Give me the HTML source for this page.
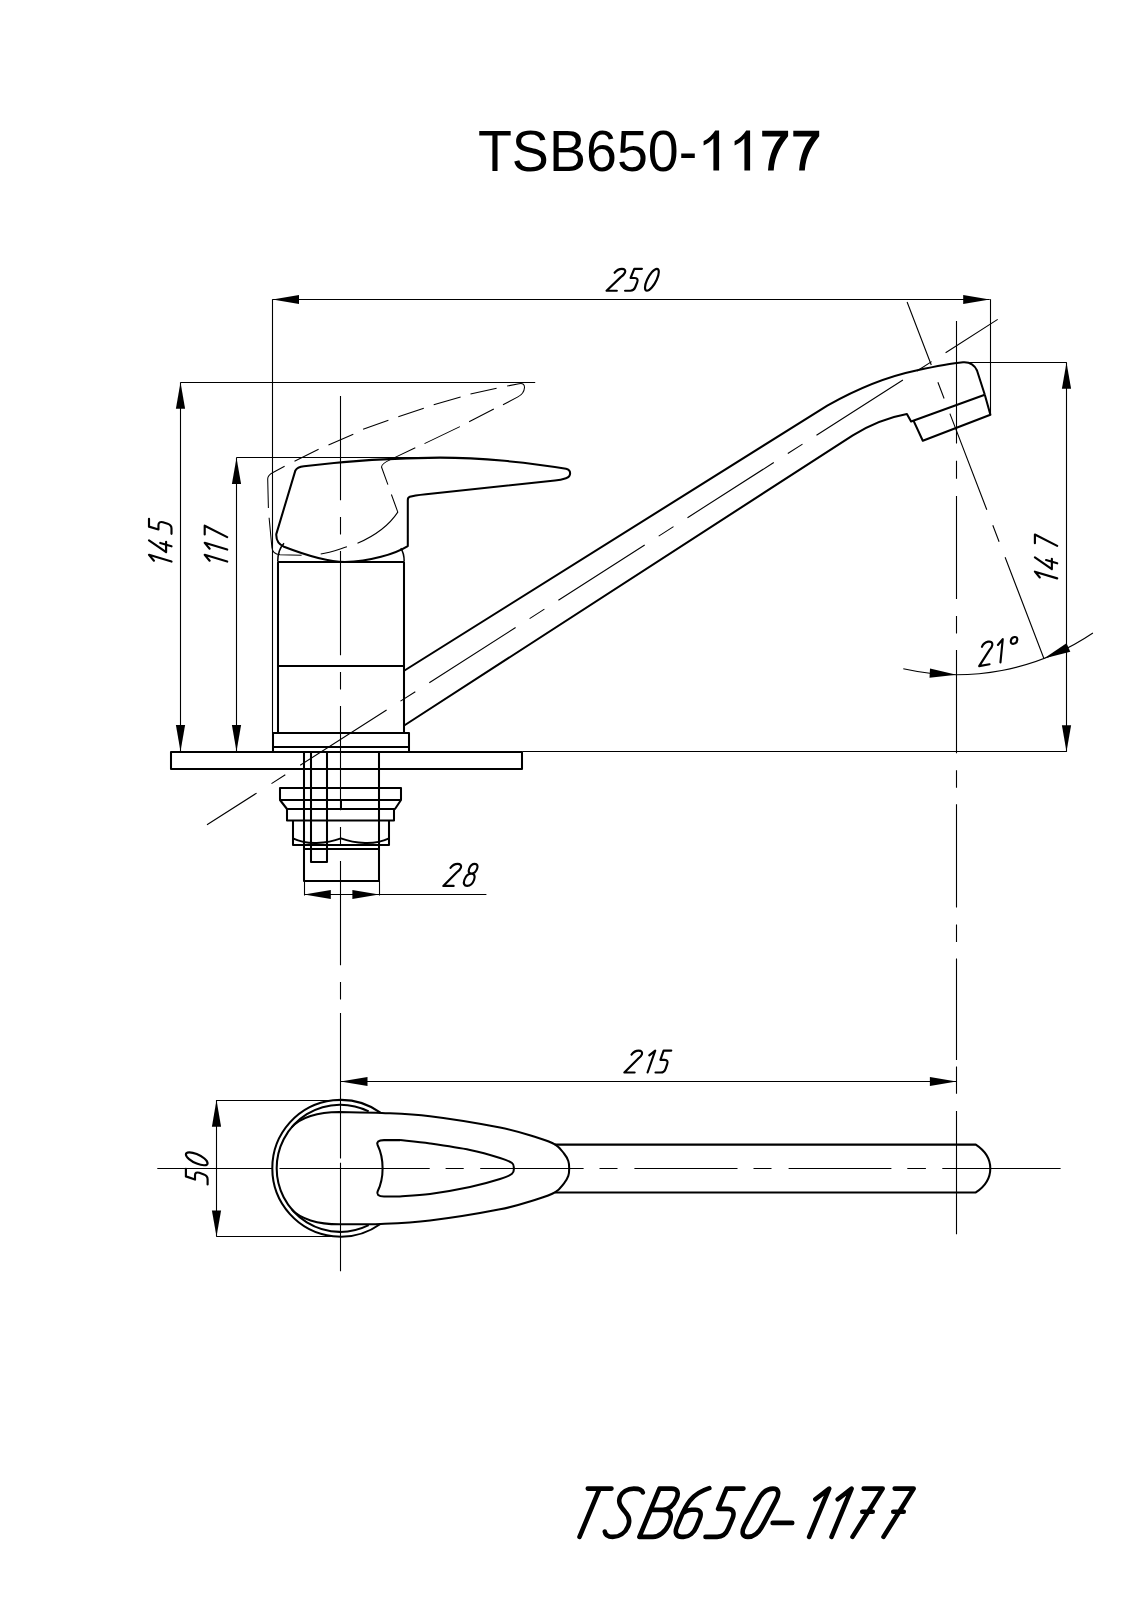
<!DOCTYPE html>
<html><head><meta charset="utf-8"><style>
html,body{margin:0;padding:0;background:#fff;}
svg{display:block;}
</style></head><body>
<svg width="1131" height="1600" viewBox="0 0 1131 1600">
<rect width="1131" height="1600" fill="#fff"/>
<g fill="none" stroke="#000" stroke-linecap="butt" stroke-linejoin="round">
<line x1="272.5" y1="299.5" x2="989.7" y2="299.5" stroke-width="1.1"/>
<path d="M272.5,299.5 L299.0,304.1 L299.0,294.9 Z" fill="#000" stroke="none"/>
<path d="M989.7,299.5 L963.2,294.9 L963.2,304.1 Z" fill="#000" stroke="none"/>
<line x1="272.5" y1="299.2" x2="272.5" y2="733.0" stroke-width="1.1"/>
<line x1="990.5" y1="299.2" x2="990.5" y2="414.7" stroke-width="1.1"/>
<g transform="translate(600.00,290.70) rotate(0)" stroke-width="2.15" stroke-linecap="round" stroke-linejoin="round"><path d="M14.60,-17.96 C16.83,-20.80 19.46,-21.90 21.87,-21.90 C24.72,-21.90 25.86,-20.37 24.98,-18.18 C24.28,-16.43 22.88,-15.11 20.73,-13.58 L6.54,0.00 L16.83,0.00"/><path d="M41.93,-21.90 L34.27,-21.90 L30.59,-12.70 L34.97,-12.70 C37.38,-12.70 38.21,-10.95 37.16,-8.32 L35.32,-3.72 C34.36,-1.31 32.52,0.00 30.33,0.00 L25.07,0.00"/><path d="M56.83,-21.90 C59.49,-21.90 59.44,-16.99 56.72,-10.95 C53.99,-4.91 49.63,0.00 46.97,0.00 C44.31,0.00 44.36,-4.91 47.08,-10.95 C49.81,-16.99 54.17,-21.90 56.83,-21.90 Z"/></g>
<line x1="180.7" y1="382.5" x2="535.2" y2="382.5" stroke-width="1.1"/>
<line x1="180.5" y1="382.3" x2="180.5" y2="751.5" stroke-width="1.1"/>
<path d="M180.5,382.3 L175.9,408.8 L185.1,408.8 Z" fill="#000" stroke="none"/>
<path d="M180.5,751.5 L185.1,725.0 L175.9,725.0 Z" fill="#000" stroke="none"/>
<g transform="translate(171.50,570.00) rotate(-90)" stroke-width="2.15" stroke-linecap="round" stroke-linejoin="round"><path d="M9.30,-17.55 L15.17,-22.50 L8.42,0.00"/><path d="M29.74,-22.50 L17.86,-5.40 L28.21,-5.40 M27.04,-11.25 L23.66,0.00"/><path d="M51.24,-22.50 L43.36,-22.50 L40.53,-13.05 L45.03,-13.05 C47.50,-13.05 48.54,-11.25 47.73,-8.55 L46.31,-3.82 C45.57,-1.35 43.81,0.00 41.56,0.00 L36.16,0.00"/></g>
<line x1="236.3" y1="457.5" x2="462.0" y2="457.5" stroke-width="1.1"/>
<line x1="236.5" y1="457.7" x2="236.5" y2="751.5" stroke-width="1.1"/>
<path d="M236.5,457.7 L231.9,484.0 L241.1,484.0 Z" fill="#000" stroke="none"/>
<path d="M236.5,751.5 L241.1,725.0 L231.9,725.0 Z" fill="#000" stroke="none"/>
<g transform="translate(227.20,570.00) rotate(-90)" stroke-width="2.15" stroke-linecap="round" stroke-linejoin="round"><path d="M9.30,-17.55 L15.17,-22.50 L8.42,0.00"/><path d="M21.30,-17.55 L27.17,-22.50 L20.42,0.00"/><path d="M35.49,-22.50 L44.33,-22.50 L32.88,0.00"/></g>
<line x1="522.5" y1="751.5" x2="1066.8" y2="751.5" stroke-width="1.1"/>
<line x1="965.0" y1="362.5" x2="1066.8" y2="362.5" stroke-width="1.1"/>
<line x1="1066.5" y1="362.5" x2="1066.5" y2="751.7" stroke-width="1.1"/>
<path d="M1066.5,362.5 L1061.9,388.8 L1071.1,388.8 Z" fill="#000" stroke="none"/>
<path d="M1066.5,751.7 L1071.1,725.2 L1061.9,725.2 Z" fill="#000" stroke="none"/>
<g transform="translate(1057.20,585.00) rotate(-90)" stroke-width="2.15" stroke-linecap="round" stroke-linejoin="round"><path d="M7.52,-17.39 L13.34,-22.30 L6.65,0.00"/><path d="M27.68,-22.30 L15.91,-5.35 L26.17,-5.35 M25.01,-11.15 L21.66,0.00"/><path d="M41.71,-22.30 L50.48,-22.30 L39.13,0.00"/></g>
<path d="M903.3,668.8 A244.0,244.0 0 0 0 1092.9,633.0" stroke-width="1.1"/>
<path d="M956.5,674.7 L930.0,668.6 L929.5,677.8 Z" fill="#000" stroke="none"/>
<path d="M1043.9,658.5 L1070.3,651.7 L1066.5,643.3 Z" fill="#000" stroke="none"/>
<path d="M907.1,302.0 L931.3,365.0 M937.9,382.2 L944.1,398.5 M949.9,413.6 L986.8,509.7 M992.8,525.2 L999.1,541.7 M1005.1,557.2 L1043.9,658.5 " stroke-width="1.1" />
<g transform="translate(978.00,666.30) rotate(-10)" stroke-width="2.15" stroke-linecap="round" stroke-linejoin="round"><path d="M7.23,-18.45 C9.18,-21.38 11.74,-22.50 14.22,-22.50 C17.14,-22.50 18.50,-20.93 17.87,-18.68 C17.37,-16.88 16.09,-15.53 14.07,-13.95 L1.17,0.00 L11.74,0.00"/><path d="M23.31,-17.55 L29.09,-22.50 L22.79,0.00"/><path d="M40.92,-22.50 C39.00,-22.50 37.28,-21.15 36.74,-19.24 C36.20,-17.32 37.18,-15.97 39.09,-15.97 C41.00,-15.97 42.73,-17.32 43.26,-19.24 C43.80,-21.15 42.83,-22.50 40.92,-22.50 Z"/></g>
<path d="M340.5,395.9 V500.2 M340.5,516.9 V534.5 M340.5,550.9 V655.2 M340.5,671.9 V689.5 M340.5,705.9 V810.2 M340.5,826.9 V844.5 M340.5,860.9 V965.2 M340.5,981.9 V999.5" stroke-width="1.1" />
<path d="M340.5,1013 V1158.4 M340.5,1162.8 V1271.3" stroke-width="1.1" />
<path d="M956.5,320.9 V443.6 M956.5,460.8 V478.8 M956.5,495.9 V599.0 M956.5,616.0 V633.5 M956.5,650.1 V753.2 M956.5,770.2 V787.7 M956.5,804.3 V907.4 M956.5,924.4 V941.9 M956.5,958.5 V1060 M956.5,1066.6 V1093.7 M956.5,1110.9 V1234.2" stroke-width="1.1" />
<path d="M207.0,824.8 L256.6,793.1 M271.5,783.6 L285.3,774.8 M300.2,765.2 L386.6,710.0 M400.5,701.1 L415.3,691.7 M429.3,682.7 L515.6,627.5 M529.6,618.6 L544.4,609.1 M558.4,600.2 L644.7,545.0 M658.7,536.1 L673.5,526.6 M687.5,517.7 L773.8,462.5 M787.8,453.5 L802.5,444.1 M816.5,435.2 L902.9,380.0 M916.9,371.0 L931.6,361.6 M945.6,352.7 L997.7,319.4 " stroke-width="1.1" />
<path d="M276.3,534.1 L295.4,470.4 C297,467.5 300,466.6 303.9,466.2 C340,461.8 390,457.8 440,457.6 C480,457.6 530,462.5 566,468.8 C571.5,470 571.5,476.5 566,478.3 C562,479.6 559,480.2 555,480.6 L426,494.2 C418,495 412,496 409.8,496.8 C408.2,497.4 407.8,498.5 407.8,500 L407.8,546.1 C395,554 370,561.5 344.9,562 C325,562 300,553 284,546.8 C279,544.5 276,540 276.3,534.1 Z" stroke-width="2.05" />
<path d="M277.7,561.7 Q277.7,550 284,543.3 M404.2,561.7 Q404.2,553 400.8,548.2" stroke-width="1.5" />
<path d="M294.5,461.2 L318.6,449.2 M328.5,445 L353.3,434.2 M363.1,429.3 L388.4,420.3 M398.3,416.7 L423.8,408.2 M433.7,404.7 L460.6,396.9 M470.5,394.1 L496.6,388.2 M507.2,386 L519,383.8 C523,383 524.6,384.5 524.5,387.5 C524.2,392 521.5,395 517.9,396.9 L503,404.7 M493.8,409 L469.1,421.7 M459.9,426.6 L424.5,443.6 M415.3,447.8 L391.4,459.1 C385,462 381.5,464 381.5,467 L387.9,484.6 M391.4,494.5 L397.8,512.1 C388,527 372,537 357.5,543.3 M346.9,546.8 C338,549.5 330,552.5 320.7,553.9 M301.6,555.3 L280,554.8 C275.5,554.3 272.2,551.5 271.9,547.5 L269.1,517.8 M268.4,507.9 L267.7,479 C267.7,476 270,474 273,472.5 L284.6,466.2" stroke-width="1.05" />
<path d="M278,562 V733 M404,562 V733 M278,562 H404 M278,666 H404" stroke-width="2.05" />
<path d="M273,733 H409 V752 H273 Z M273,747 H409" stroke-width="2.05" />
<path d="M171,752 H522 V769 H171 Z" stroke-width="2.05" />
<path d="M304,752 V881 H379 V752" stroke-width="2.05" />
<path d="M311,752 V862 H327 V752" stroke-width="2.05" />
<path d="M280,788 H401 V800 L395,809 H287 L280,800 Z M280,800 H401" stroke-width="2.05" />
<path d="M287,809 V820.5 H394 V809 M293,820.5 V845 H389 V820.5" stroke-width="2.05" />
<path d="M292.9,838.4 Q304,843.5 316.7,843 Q330,842.5 340.9,838.4 Q352,842.5 365,843 Q378,843.5 389,838.4" stroke-width="2.05" />
<path d="M303.5,849 H379" stroke-width="2.05" />
<path d="M341,800 V809" stroke-width="2.05" />
<line x1="304.5" y1="881.0" x2="304.5" y2="895.5" stroke-width="1.1"/>
<line x1="379.5" y1="881.0" x2="379.5" y2="895.5" stroke-width="1.1"/>
<line x1="304.1" y1="894.5" x2="486.4" y2="894.5" stroke-width="1.1"/>
<path d="M304.1,894.5 L330.8,899.1 L330.8,889.9 Z" fill="#000" stroke="none"/>
<path d="M379.1,894.5 L352.4,889.9 L352.4,899.1 Z" fill="#000" stroke="none"/>
<g transform="translate(440.00,885.90) rotate(0)" stroke-width="2.15" stroke-linecap="round" stroke-linejoin="round"><path d="M10.50,-18.04 C12.61,-20.90 15.19,-22.00 17.61,-22.00 C20.47,-22.00 21.69,-20.46 20.92,-18.26 C20.30,-16.50 18.96,-15.18 16.88,-13.64 L3.31,0.00 L13.65,0.00"/><path d="M31.43,-12.32 C28.79,-12.32 28.16,-14.30 29.16,-17.16 C30.24,-20.24 32.40,-22.00 34.82,-22.00 C37.24,-22.00 38.16,-20.24 37.08,-17.16 C36.08,-14.30 34.07,-12.32 31.43,-12.32 C28.57,-12.32 25.74,-9.90 24.43,-6.16 C23.05,-2.20 24.26,0.00 27.12,0.00 C29.98,0.00 32.73,-2.20 34.11,-6.16 C35.42,-9.90 34.29,-12.32 31.43,-12.32 Z"/></g>
<path d="M403.7,671 L827.3,405.6 C855,390 885,377 916.3,370.5 C935,366.5 950,363.5 963,362.3 C970,361.8 974,364 977,370.5 L984.8,394.8" stroke-width="2.05" />
<path d="M404.2,725.5 L852.8,435.3 C865,428 885,418 906.9,414.1 L911.1,421.5 L984.8,394.8" stroke-width="2.05" />
<path d="M913.5,420.6 L922.8,440.8 L990.4,414.7 L984.8,394.8" stroke-width="2.05" />
<line x1="340.5" y1="1081.5" x2="956.5" y2="1081.5" stroke-width="1.1"/>
<path d="M340.5,1081.5 L367.5,1086.1 L367.5,1076.9 Z" fill="#000" stroke="none"/>
<path d="M956.5,1081.5 L929.9,1076.9 L929.9,1086.1 Z" fill="#000" stroke="none"/>
<g transform="translate(620.00,1072.50) rotate(0)" stroke-width="2.15" stroke-linecap="round" stroke-linejoin="round"><path d="M11.51,-17.96 C13.60,-20.80 16.18,-21.90 18.59,-21.90 C21.43,-21.90 22.65,-20.37 21.88,-18.18 C21.27,-16.43 19.93,-15.11 17.86,-13.58 L4.35,0.00 L14.64,0.00"/><path d="M29.27,-17.08 L35.23,-21.90 L27.57,0.00"/><path d="M51.28,-21.90 L43.62,-21.90 L40.40,-12.70 L44.78,-12.70 C47.19,-12.70 48.11,-10.95 47.19,-8.32 L45.58,-3.72 C44.73,-1.31 42.96,0.00 40.77,0.00 L35.51,0.00"/></g>
<line x1="216.3" y1="1100.5" x2="340.0" y2="1100.5" stroke-width="1.1"/>
<line x1="216.3" y1="1236.5" x2="340.0" y2="1236.5" stroke-width="1.1"/>
<line x1="216.5" y1="1100.0" x2="216.5" y2="1236.6" stroke-width="1.1"/>
<path d="M216.5,1100.0 L211.9,1126.8 L221.1,1126.8 Z" fill="#000" stroke="none"/>
<path d="M216.5,1236.6 L221.1,1210.4 L211.9,1210.4 Z" fill="#000" stroke="none"/>
<g transform="translate(207.60,1190.00) rotate(-90)" stroke-width="2.15" stroke-linecap="round" stroke-linejoin="round"><path d="M21.21,-21.70 L13.62,-21.70 L10.43,-12.59 L14.77,-12.59 C17.16,-12.59 18.07,-10.85 17.16,-8.25 L15.56,-3.69 C14.73,-1.30 12.97,0.00 10.80,0.00 L5.59,0.00"/><path d="M35.54,-21.70 C38.18,-21.70 38.37,-16.84 35.97,-10.85 C33.57,-4.86 29.50,0.00 26.86,0.00 C24.22,0.00 24.02,-4.86 26.43,-10.85 C28.83,-16.84 32.90,-21.70 35.54,-21.70 Z"/></g>
<path d="M157.3,1168.5 H272 M279.5,1168.5 H429.7 M445.6,1168.5 H463.7 M480.2,1168.5 H583.6 M599.5,1168.5 H617.5 M634.4,1168.5 H737.5 M753.5,1168.5 H771.5 M788.6,1168.5 H891.4 M907.3,1168.5 H925.9 M942.3,1168.5 H1060.6" stroke-width="1.1" />
<path d="M380.4,1224.0 A68.4,68.4 0 1 1 380.4,1112.6" stroke-width="2.05"/>
<path d="M368.7,1225.2 A63.6,63.6 0 1 1 368.7,1111.4" stroke-width="2.05"/>
<path d="M291.6,1127.4 C300,1117.5 318,1112 339.2,1112  C346.3,1112.2 366.8,1112.2 381.9,1112.9 C397.0,1113.6 410.3,1113.8 430.0,1116.2 C449.7,1118.6 482.2,1124.0 500.0,1127.5 C517.8,1131.0 527.8,1134.7 537.0,1137.5 C546.2,1140.3 550.8,1141.9 555.3,1144.6 C559.8,1147.3 561.8,1150.8 564.0,1153.5 C566.2,1156.2 567.4,1158.5 568.3,1161.0 C569.2,1163.5 569.2,1165.9 569.2,1168.4 C569.2,1170.9 569.2,1173.3 568.3,1175.8 C567.4,1178.3 566.2,1180.6 564.0,1183.3 C561.8,1186.0 559.8,1189.5 555.3,1192.2 C550.8,1194.9 546.2,1196.5 537.0,1199.3 C527.8,1202.1 517.8,1205.8 500.0,1209.3 C482.2,1212.8 449.9,1218.1 430.0,1220.5 C410.1,1222.9 395.8,1223.3 380.7,1223.9 C365.6,1224.5 346.1,1224.2 339.2,1224.3 C318,1224.3 300,1219 291.6,1209.2" stroke-width="2.05" />
<path d="M400,1140.1 H384 C378,1140.1 376.5,1142.5 377.6,1145 C381,1152 382.6,1160 382.6,1168.4 C382.6,1176.5 381,1184.5 377.6,1191.5 C376.5,1194 378,1196.4 384,1196.4 H400 " stroke-width="2.05" />
<path d="M400.0,1140.1 C405.0,1140.7 418.3,1141.8 430.0,1143.5 C441.7,1145.2 458.3,1147.6 470.0,1150.0 C481.7,1152.4 493.0,1155.8 500.0,1158.0 C507.0,1160.2 509.7,1161.3 512.0,1163.0 C514.3,1164.7 513.8,1166.6 513.8,1168.4 C513.8,1170.2 514.3,1172.0 512.0,1173.8 C509.7,1175.6 507.0,1176.8 500.0,1179.0 C493.0,1181.2 481.7,1184.5 470.0,1187.0 C458.3,1189.5 441.7,1192.4 430.0,1194.0 C418.3,1195.6 405.0,1196.0 400.0,1196.4" stroke-width="2.05" />
<path d="M554.7,1144.6 H975.8 C984,1150 990.3,1158 990.3,1168.4 C990.3,1178.5 984,1187 975.8,1192.4 H554.7" stroke-width="2.05" />
<text transform="translate(477.9,171) scale(1,1.042)" x="0" y="0" font-family="Liberation Sans" font-size="55.6" fill="#000" stroke="none">TSB650-</text>
<path transform="translate(0,0)" d="M719.1,170.6 V130.4 H715.2 C712.2,135 708.2,139 703.6,141.1 V145.6 C707.5,144 711,141.2 713.4,138.6 V170.6 Z" fill="#000" stroke="none"/>
<path transform="translate(31.0,0)" d="M719.1,170.6 V130.4 H715.2 C712.2,135 708.2,139 703.6,141.1 V145.6 C707.5,144 711,141.2 713.4,138.6 V170.6 Z" fill="#000" stroke="none"/>
<path transform="translate(0,0)" d="M762.2,130.8 H788.1 V136.3 C782,143.5 774.6,155 773.7,170.6 H768 C769,155 774,144 780.6,136.5 H762.2 Z" fill="#000" stroke="none"/>
<path transform="translate(31.1,0)" d="M762.2,130.8 H788.1 V136.3 C782,143.5 774.6,155 773.7,170.6 H768 C769,155 774,144 780.6,136.5 H762.2 Z" fill="#000" stroke="none"/>
<g transform="translate(567.70,1536.90) rotate(0)" stroke-width="4.6" stroke-linecap="round" stroke-linejoin="round"><path d="M20.09,-48.30 L43.76,-48.30 M31.93,-48.30 L11.83,0.00"/><path d="M75.12,-44.44 C74.39,-47.33 70.93,-48.30 66.10,-48.30 C59.82,-48.30 54.31,-44.92 52.30,-40.09 C49.89,-34.29 53.15,-29.95 57.71,-24.63 C61.69,-20.29 62.54,-15.94 60.33,-10.63 C57.52,-3.86 51.32,0.00 45.04,0.00 C40.21,0.00 37.64,-1.93 37.11,-5.31"/><path d="M71.70,0.00 L91.79,-48.30 L103.87,-48.30 C109.66,-48.30 111.44,-44.44 108.83,-38.16 C106.01,-31.39 100.34,-27.05 95.03,-27.05 L82.95,-27.05 M95.03,-27.05 C102.75,-27.05 104.89,-21.73 101.48,-13.52 C97.86,-4.83 91.02,0.00 85.22,0.00 L71.70,0.00"/><path d="M141.62,-48.78 C133.85,-46.37 127.41,-42.50 122.59,-36.71 C118.44,-31.39 115.35,-25.12 112.13,-17.39 L109.32,-10.63 C106.51,-3.86 108.76,0.00 114.08,0.00 L116.01,0.00 C121.32,0.00 126.27,-4.35 128.68,-10.14 L131.90,-17.87 C134.31,-23.67 132.63,-27.19 127.80,-27.19 L123.46,-27.19 C121.04,-27.19 118.17,-26.08 115.67,-24.15"/><path d="M175.76,-48.30 L158.86,-48.30 L150.42,-28.01 L160.08,-28.01 C165.39,-28.01 167.17,-24.15 164.76,-18.35 L160.54,-8.21 C158.33,-2.90 154.22,0.00 149.39,0.00 L137.80,0.00"/><path d="M176.99,-11.59 C173.05,-3.86 175.06,0.00 180.14,0.00 C185.69,0.00 191.36,-4.35 195.10,-11.59 L208.45,-36.71 C212.39,-44.44 210.37,-48.30 205.30,-48.30 C199.75,-48.30 194.07,-43.95 190.33,-36.71 Z"/><path d="M204.93,-14.01 L224.54,-14.01"/><path d="M247.67,-37.67 L261.51,-48.30 L241.42,0.00"/><path d="M270.07,-37.67 L283.91,-48.30 L263.82,0.00"/><path d="M295.99,-48.30 L314.97,-48.30 L284.79,0.00 M294.56,-25.12 L305.04,-25.12"/><path d="M326.99,-48.30 L345.97,-48.30 L315.79,0.00 M325.56,-25.12 L336.04,-25.12"/></g>
</g>
</svg>
</body></html>
